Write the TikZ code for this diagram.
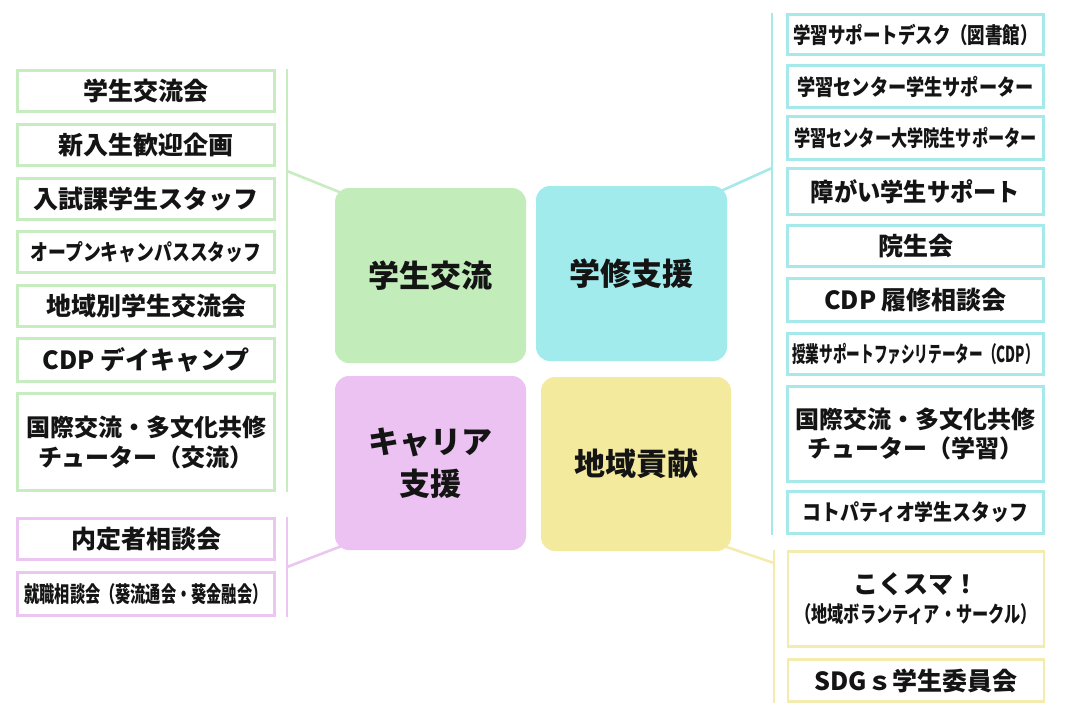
\documentclass[tikz,border=0pt]{standalone}
\usepackage{fontspec}
\usepackage{graphicx}
\setmainfont{Noto Sans CJK JP}
\usetikzlibrary{backgrounds,calc}
\definecolor{gF}{HTML}{C2EDBB}
\definecolor{gL}{HTML}{C6ECC0}
\definecolor{cF}{HTML}{A1EBEC}
\definecolor{cL}{HTML}{A5E9EA}
\definecolor{pF}{HTML}{EBC2F1}
\definecolor{pL}{HTML}{EBC6F0}
\definecolor{yF}{HTML}{F3EA9E}
\definecolor{yL}{HTML}{F4ECAE}
\definecolor{txt}{HTML}{141414}
\newcommand\fz[3]{\scalebox{#2}[1]{\fontsize{#1}{30}\selectfont #3}}
\tikzset{
  sub/.style={draw=#1, line width=2.6pt, fill=white, minimum width=257pt, inner sep=0pt,
    font=\bfseries\fontsize{25}{30}\selectfont, text=txt, align=center},
  mainbox/.style={fill=#1, rounded corners=14pt, minimum width=191pt, minimum height=175pt,
    inner sep=0pt, font=\bfseries\fontsize{31}{42}\selectfont, align=center, text=txt},
  bar/.style={draw=#1, line width=2.6pt},
}
\begin{document}
\begin{tikzpicture}[x=1pt,y=-1pt]
\useasboundingbox (0,0) rectangle (1065,720);
% main boxes
\node[mainbox=gF] (G) at (430.5,275.5) {学生交流};
\node[mainbox=cF] (C) at (631.5,273.5) {学修支援};
\node[mainbox=pF, minimum height=174pt] (P) at (430.5,463) {キャリア\\支援};
\node[mainbox=yF, minimum width=190pt, minimum height=174pt] (Y) at (636,464) {地域貢献};
% left green
\node[sub=gL, minimum height=41pt] (g1) at (146,91) {学生交流会};
\node[sub=gL, minimum height=41pt] (g2) at (146,145) {新入生歓迎企画};
\node[sub=gL, minimum height=41pt] (g3) at (146,199) {入試課学生スタッフ};
\node[sub=gL, minimum height=41pt] (g4) at (146,252) {\fz{22}{0.81}{オープンキャンパススタッフ}};
\node[sub=gL, minimum height=41pt] (g5) at (146,306) {地域別学生交流会};
\node[sub=gL, minimum height=43pt] (g6) at (146,360) {CDP デイキャンプ};
\node[sub=gL, minimum height=97pt, font=\bfseries\fontsize{24}{30}\selectfont] (g7) at (146,442) {国際交流・多文化共修\\チューター（交流）};
% left pink
\node[sub=pL, minimum height=41pt] (p1) at (146,539) {内定者相談会};
\node[sub=pL, minimum height=43pt] (p2) at (146,594) {\fz{22}{0.69}{就職相談会（葵流通会・葵金融会）}};
% right cyan
\node[sub=cL, minimum width=256pt, minimum height=40pt] (c1) at (915.5,34.5) {\fz{22}{0.795}{学習サポートデスク（図書館）}};
\node[sub=cL, minimum width=256pt, minimum height=42pt] (c2) at (915.5,86.5) {\fz{22}{0.827}{学習センター学生サポーター}};
\node[sub=cL, minimum width=256pt, minimum height=43pt] (c3) at (915.5,138) {\fz{22}{0.736}{学習センター大学院生サポーター}};
\node[sub=cL, minimum width=256pt, minimum height=46pt] (c4) at (915.5,191.5) {\fz{25}{0.93}{障がい学生サポート}};
\node[sub=cL, minimum width=256pt, minimum height=41pt] (c5) at (915.5,246) {院生会};
\node[sub=cL, minimum width=256pt, minimum height=43pt] (c6) at (915.5,300) {CDP 履修相談会};
\node[sub=cL, minimum width=256pt, minimum height=41pt] (c7) at (915.5,354) {\fz{22}{0.62}{授業サポートファシリテーター（CDP）}};
\node[sub=cL, minimum width=256pt, minimum height=95pt, font=\bfseries\fontsize{24}{29}\selectfont] (c8) at (915.5,434) {国際交流・多文化共修\\チューター（学習）};
\node[sub=cL, minimum width=256pt, minimum height=42pt] (c9) at (915.5,512.5) {\fz{22}{0.86}{コトパティオ学生スタッフ}};
% right yellow
\node[sub=yL, minimum width=256pt, minimum height=95pt, font=\bfseries\fontsize{25}{29}\selectfont] (y1) at (916,599) {こくスマ！\\\fz{22}{0.736}{（地域ボランティア・サークル）}};
\node[sub=yL, minimum width=256pt, minimum height=42pt] (y2) at (916,680.5) {SDGｓ学生委員会};
% bars
\coordinate (gT) at (287,69);  \coordinate (gB) at (287,492); \coordinate (gC) at (287,171);
\coordinate (pT) at (287,517); \coordinate (pB) at (287,617); \coordinate (pC) at (287,567);
\coordinate (cT) at (772,13);  \coordinate (cB) at (772,535); \coordinate (cC) at (772,168);
\coordinate (yT) at (774,550); \coordinate (yB) at (774,703); \coordinate (yC) at (774,563);
\draw[bar=gL] (gT) -- (gB);
\draw[bar=pL] (pT) -- (pB);
\draw[bar=cL] (cT) -- (cB);
\draw[bar=yL] (yT) -- (yB);
\begin{scope}[on background layer]
\draw[bar=gL] (gC) -- ($(G.north west)+(9,6)$);
\draw[bar=pL] (pC) -- ($(P.south west)+(9,-5)$);
\draw[bar=cL] (cC) -- ($(C.north east)+(-8,6)$);
\draw[bar=yL] (yC) -- ($(Y.south east)+(-10,-6)$);
\end{scope}
\end{tikzpicture}
\end{document}
